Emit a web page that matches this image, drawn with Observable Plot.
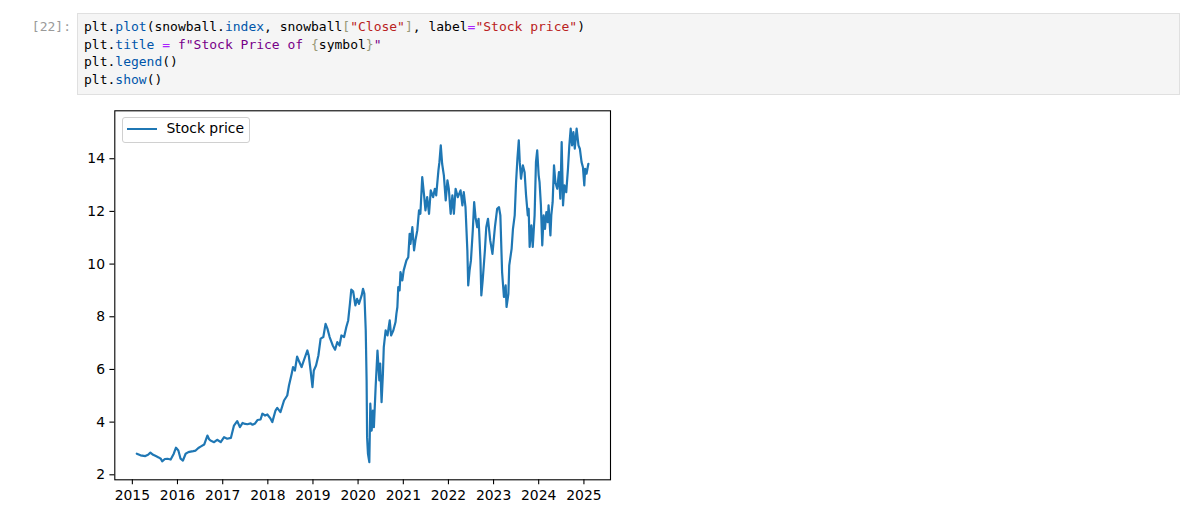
<!DOCTYPE html>
<html>
<head>
<meta charset="utf-8">
<script src="https://cdn.jsdelivr.net/npm/d3@7"></script>
<script src="https://cdn.jsdelivr.net/npm/@observablehq/plot@0.6"></script>
<style>
  html, body { margin: 0; padding: 0; background: #fff; }
  body { width: 1192px; height: 524px; position: relative; overflow: hidden; }
  .prompt { position: absolute; left: 0; width: 71px; top: 18px; text-align: right;
    font-family: "DejaVu Sans Mono", monospace; font-size: 13px; line-height: 17.7px; color: #9a9a9a; }
  .cell { position: absolute; left: 77px; top: 13px; width: 1101px; height: 80px;
    background: #f5f5f5; border: 1px solid #e0e0e0; box-sizing: content-box; }
  .cell pre { margin: 0; position: absolute; left: 6px; top: 4px;
    font-family: "DejaVu Sans Mono", monospace; font-size: 13px; line-height: 17.7px; color: #000; }
  .p { color: #0055aa; } .s { color: #ba2121; } .o { color: #aa22ff; } .b { color: #999977; } .f { color: #770088; }
  #chart { position: absolute; left: 0; top: 100px; }
  .legend { position: absolute; left: 121.5px; top: 117px; width: 126px; height: 24px;
    border: 1px solid #d0d0d0; border-radius: 3px; background: rgba(255,255,255,0.8); box-sizing: content-box; }
  .legend .sw { position: absolute; left: 4px; top: 10px; width: 30px; height: 2px; background: #1f77b4; }
  .legend .lt { position: absolute; left: 44px; top: 0.5px; font-family: "DejaVu Sans", sans-serif; font-size: 13.9px; line-height: 19px; color: #000; white-space: nowrap; }
</style>
</head>
<body>
<div class="prompt">[22]:</div>
<div class="cell"><pre>plt.<span class="p">plot</span>(snowball.<span class="p">index</span>, snowball<span class="b">[</span><span class="s">"Close"</span><span class="b">]</span>, label<span class="o">=</span><span class="s">"Stock price"</span>)
plt.<span class="p">title</span> <span class="o">=</span> <span class="f">f"Stock Price of </span><span class="b">{</span>symbol<span class="b">}</span><span class="f">"</span>
plt.<span class="p">legend</span>()
plt.<span class="p">show</span>()</pre></div>
<div id="chart"></div>
<div class="legend"><div class="sw"></div><div class="lt">Stock price</div></div>
<script>
const dates = [
"2015-02-06","2015-03-08","2015-04-16","2015-05-08","2015-05-27","2015-06-18","2015-07-10","2015-08-01","2015-08-19","2015-08-30",
"2015-09-21","2015-10-12","2015-11-07","2015-12-02","2015-12-20","2016-01-08","2016-01-26","2016-02-14","2016-03-07","2016-03-29",
"2016-04-16","2016-05-08","2016-05-27","2016-06-18","2016-07-06","2016-08-04","2016-08-30","2016-09-13","2016-09-24","2016-10-23",
"2016-11-17","2016-12-16","2017-01-12","2017-02-06","2017-03-08","2017-04-02","2017-04-28","2017-05-20","2017-06-11","2017-07-02",
"2017-07-20","2017-08-15","2017-08-30","2017-09-20","2017-10-09","2017-11-03","2017-11-18","2017-12-10","2017-12-28","2018-01-23",
"2018-02-06","2018-03-04","2018-03-18","2018-04-13","2018-05-12","2018-06-07","2018-06-21","2018-07-13","2018-07-24","2018-08-08",
"2018-08-26","2018-09-13","2018-10-01","2018-10-19","2018-11-17","2018-11-28","2018-12-13","2018-12-28","2019-01-08","2019-01-26",
"2019-02-14","2019-03-04","2019-03-26","2019-04-13","2019-04-28","2019-05-16","2019-06-10","2019-06-29","2019-07-17","2019-08-04",
"2019-08-19","2019-09-10","2019-09-28","2019-10-13","2019-10-27","2019-11-07","2019-11-22","2019-12-10","2019-12-24","2020-01-08",
"2020-01-30","2020-02-10","2020-02-21","2020-03-03","2020-03-10","2020-03-14","2020-03-21","2020-04-01","2020-04-09","2020-04-20",
"2020-04-30","2020-05-08","2020-05-22","2020-06-06","2020-06-21","2020-06-28","2020-07-09","2020-07-20","2020-07-27","2020-08-11",
"2020-08-26","2020-09-13","2020-09-24","2020-10-12","2020-10-30","2020-11-06","2020-11-14","2020-11-21","2020-12-02","2020-12-09",
"2020-12-24","2021-01-04","2021-01-26","2021-02-10","2021-02-21","2021-02-28","2021-03-15","2021-03-29","2021-04-09","2021-04-24",
"2021-05-08","2021-05-19","2021-06-03","2021-06-18","2021-06-29","2021-07-13","2021-07-28","2021-08-11","2021-08-30","2021-09-13",
"2021-09-24","2021-10-12","2021-10-20","2021-10-31","2021-11-11","2021-11-25","2021-12-10","2021-12-24","2022-01-04","2022-01-19",
"2022-02-02","2022-02-14","2022-02-28","2022-03-18","2022-04-09","2022-04-24","2022-05-05","2022-05-19","2022-06-03","2022-06-10",
"2022-06-21","2022-07-02","2022-07-17","2022-07-28","2022-08-08","2022-08-22","2022-09-02","2022-09-17","2022-09-24","2022-10-05",
"2022-10-23","2022-11-03","2022-11-17","2022-12-05","2022-12-23","2023-01-12","2023-01-30","2023-02-14","2023-02-25","2023-03-11",
"2023-03-26","2023-04-09","2023-04-16","2023-05-01","2023-05-08","2023-05-27","2023-06-07","2023-06-21","2023-07-02","2023-07-13",
"2023-07-24","2023-08-01","2023-08-11","2023-08-26","2023-09-09","2023-09-21","2023-10-05","2023-10-12","2023-10-20","2023-11-03",
"2023-11-14","2023-11-29","2023-12-10","2023-12-20","2024-01-01","2024-01-08","2024-01-19","2024-01-30","2024-02-10","2024-02-21",
"2024-03-03","2024-03-14","2024-03-21","2024-04-05","2024-04-12","2024-04-23","2024-05-04","2024-05-15","2024-05-30","2024-06-13",
"2024-06-24","2024-07-05","2024-07-16","2024-07-27","2024-08-11","2024-08-25","2024-09-05","2024-09-16","2024-09-27","2024-10-08",
"2024-10-19","2024-11-03","2024-11-18","2024-11-29","2024-12-13","2024-12-24","2025-01-04","2025-01-11","2025-01-22","2025-02-06"
];
const closes = [
2.80,2.74,2.71,2.76,2.84,2.76,2.71,2.66,2.61,2.51,
2.60,2.61,2.58,2.80,3.03,2.92,2.61,2.54,2.80,2.86,
2.88,2.90,2.92,3.02,3.07,3.15,3.49,3.35,3.30,3.24,
3.33,3.24,3.43,3.37,3.40,3.87,4.04,3.81,3.97,3.93,
3.92,3.95,3.90,3.95,4.08,4.10,4.32,4.25,4.29,4.13,
4.00,4.44,4.54,4.38,4.82,5.01,5.39,5.84,6.09,5.96,
6.49,6.28,6.09,6.34,6.72,6.53,5.96,5.33,5.96,6.15,
6.53,7.17,7.23,7.73,7.55,7.23,6.91,6.75,7.04,6.91,
7.29,7.23,7.61,7.86,8.49,9.03,8.97,8.43,8.68,8.49,
8.81,9.06,8.87,7.48,5.58,3.43,2.80,2.48,4.70,3.68,
4.44,3.81,5.33,6.72,5.58,6.22,4.76,5.84,6.85,7.48,
7.29,7.86,7.29,7.48,7.80,8.11,8.37,9.13,9.00,9.70,
9.38,9.76,10.14,10.26,11.15,10.77,11.40,10.52,10.90,11.28,
12.04,11.91,13.30,12.61,12.04,12.54,11.91,12.80,12.54,12.86,
12.61,13.56,13.87,14.51,13.81,13.37,12.42,13.18,12.86,11.91,
12.61,11.91,12.86,12.54,12.80,12.23,12.73,12.16,10.52,9.19,
9.76,10.14,11.28,12.35,11.78,11.40,11.72,10.14,8.81,9.38,
10.52,11.40,11.72,10.90,10.39,11.40,12.10,12.16,11.85,9.70,
8.75,9.19,8.37,8.87,9.95,10.58,11.34,11.85,13.11,14.00,
14.70,13.87,13.24,13.75,13.49,12.61,11.85,12.10,10.65,11.47,
10.65,11.85,13.87,14.32,13.37,13.11,12.23,10.71,11.85,11.34,
11.97,11.59,12.23,11.09,11.85,12.35,13.75,13.11,12.86,13.49,
12.48,14.63,12.23,12.99,12.73,13.62,14.51,15.14,14.51,15.01,
14.38,15.14,14.51,14.38,13.87,13.68,12.99,13.62,13.43,13.81
];
const yearTicks = ["2015","2016","2017","2018","2019","2020","2021","2022","2023","2024","2025"];
const priceTicks = [2, 4, 6, 8, 10, 12, 14];
const seriesLabel = "Stock price";

const data = dates.map((d, i) => ({date: new Date(d), close: closes[i]}));
const xTicks = yearTicks.map(y => new Date(y + "-01-01"));

const chart = Plot.plot({
  width: 620,
  height: 424,
  marginLeft: 114.3,
  marginRight: 10,
  marginTop: 10.3,
  marginBottom: 44.7,
  style: {fontFamily: "DejaVu Sans", fontSize: "13.9px", color: "#000", background: "transparent"},
  x: {type: "utc", domain: [new Date("2014-08-12"), new Date("2025-08-04")]},
  y: {domain: [1.81, 15.82]},
  marks: [
    Plot.line(data, {x: "date", y: "close", stroke: "#1f77b4", strokeWidth: 2.2, strokeLinejoin: "round"}),
    Plot.frame({stroke: "#000", strokeWidth: 1.1}),
    Plot.axisX({ticks: xTicks, tickFormat: "%Y", tickSize: 4.9, tickPadding: 5.5, strokeWidth: 1.1, color: "#000", label: null}),
    Plot.axisY({ticks: priceTicks, tickSize: 4.9, tickPadding: 4.9, strokeWidth: 1.1, color: "#000", label: null})
  ]
});
document.getElementById("chart").appendChild(chart);
</script>
</body>
</html>
